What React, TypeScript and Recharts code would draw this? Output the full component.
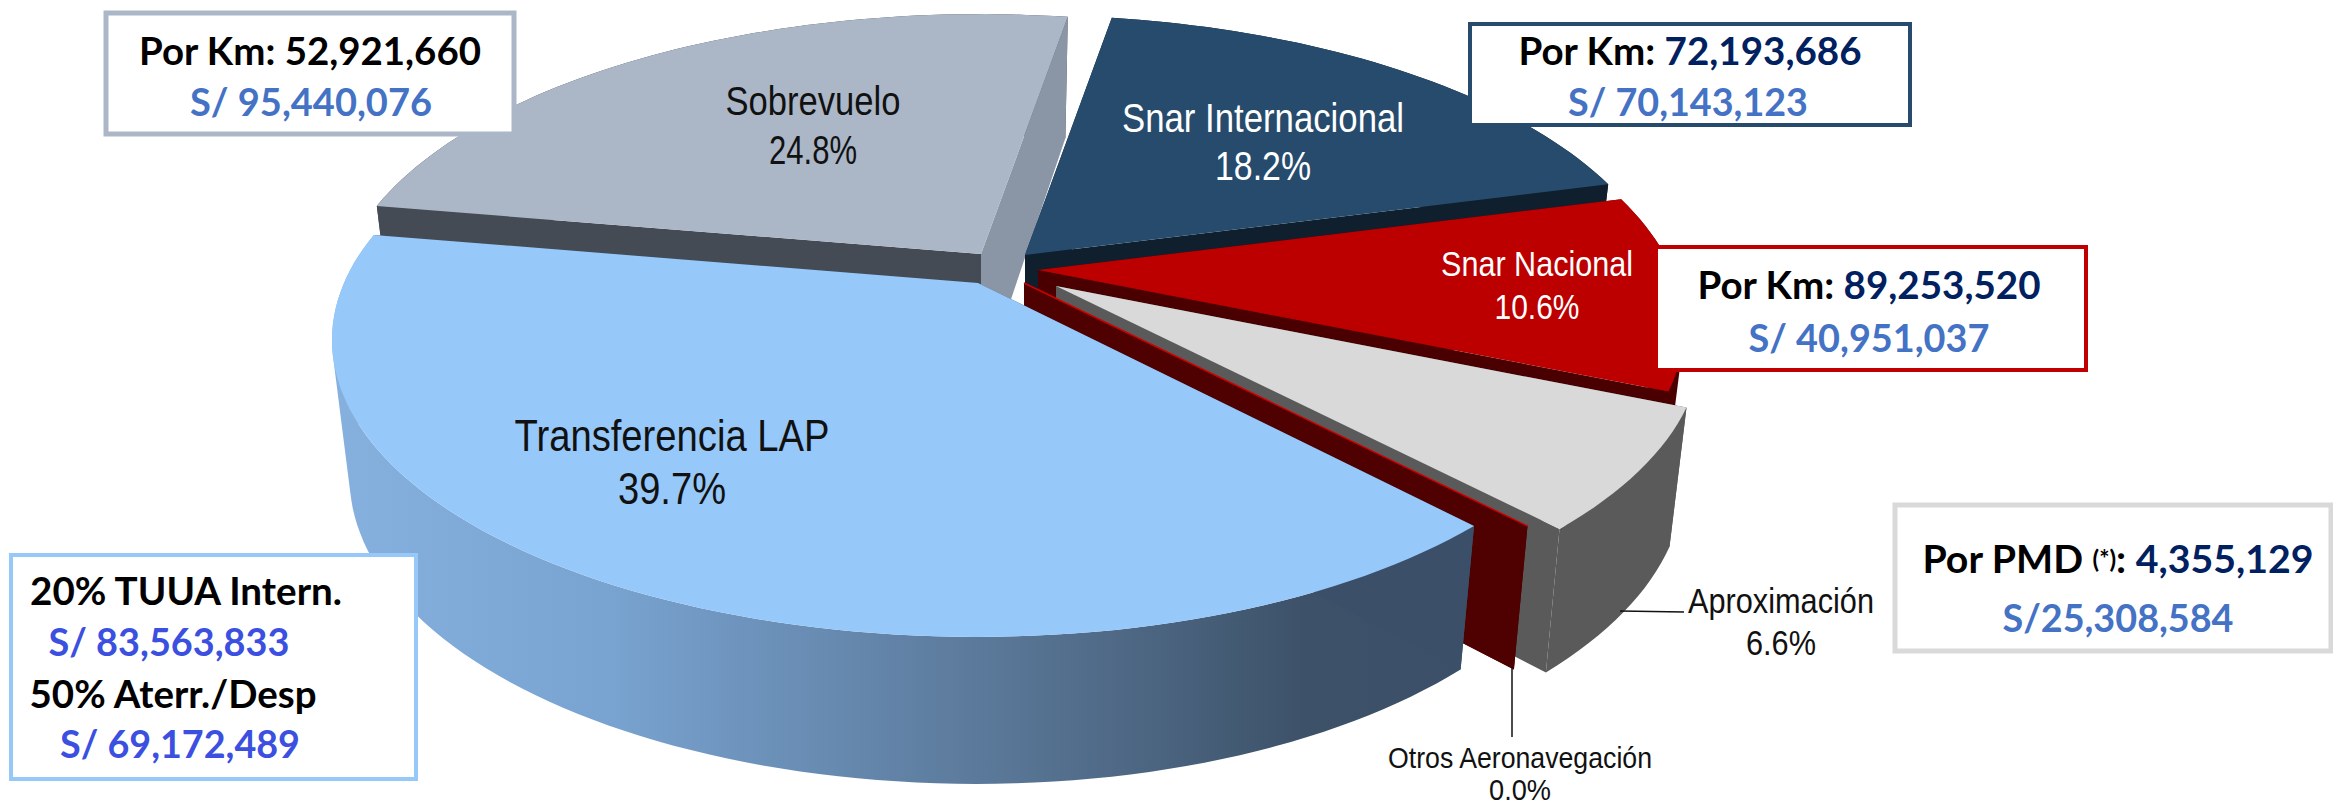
import { PieChart, Pie } from 'recharts';

// Participación por concepto, en el orden en que se dibuja el pastel
const names = ['Sobrevuelo', 'Snar Internacional', 'Snar Nacional', 'Aproximación', 'Otros Aeronavegación', 'Transferencia LAP'];
const shares = [24.8, 18.2, 10.6, 6.6, 0.0, 39.7];

const pieData = names.map((name, i) => ({ name, value: shares[i] }));

// Textos de los recuadros
const boxSobrevuelo = ['Por Km: ', '52,921,660', 'S/ 95,440,076'];
const boxInternacional = ['Por Km: ', '72,193,686', 'S/ 70,143,123'];
const boxNacional = ['Por Km: ', '89,253,520', 'S/ 40,951,037'];
const boxAproximacion = ['4,355,129', 'S/25,308,584'];
const boxTransferencia = ['20% TUUA Intern.', 'S/ 83,563,833', '50% Aterr./Desp', 'S/ 69,172,489'];

const W = 2333;
const H = 806;

// perspectiva del plano superior del pastel
const TILT = 0.451;
const PERSP = 0.192;
const SHRINK = 0.973;

const sliceStyles: Record<string, any> = {
  Sobrevuelo: { dx: -1, dy: -29, top: '#ABB7C7', wallA: '#454B54', wallB: '#8A96A6', rim: '#454B54' },
  'Snar Internacional': { dx: 43, dy: -28, top: '#264B6C', wallA: '#0F1F2D', wallB: '#0F1F2D', rim: '#0F1F2D' },
  'Snar Nacional': { dx: 56, dy: -13, top: '#BC0000', wallA: '#4A0000', wallB: '#4A0000', rim: '#4A0000' },
  'Aproximación': { dx: 74, dy: 3, top: '#D9D9D9', wallA: '#5A5A5A', wallB: '#5A5A5A', rim: '#5A5A5A' },
  'Otros Aeronavegación': { dx: 42, dy: 0, top: '#D00000', wallA: '#4F0000', wallB: '#4F0000', rim: '#4F0000' },
  'Transferencia LAP': { dx: -4, dy: 0, right: 0.985, top: '#97C8FA', wallA: '#3B5068', wallB: '#3B5068', rim: 'url(#rimBlue)' },
};

const labelStyles: Record<string, any> = {
  Sobrevuelo: { x: 813, y: 101, gap: 49, size: 40, width: 175, pct: 88, color: '#111' },
  'Snar Internacional': { x: 1263, y: 118, gap: 48, size: 40, width: 282, pct: 96, color: '#fff' },
  'Snar Nacional': { x: 1537, y: 263, gap: 43, size: 35, width: 192, pct: 85, color: '#fff' },
  'Aproximación': { x: 1781, y: 600, gap: 42, size: 35, width: 186, pct: 70, color: '#111', line: [1620, 611, 1684, 612] },
  'Otros Aeronavegación': { x: 1520, y: 757, gap: 32, size: 30, width: 264, pct: 62, color: '#111', line: [1512, 667, 1512, 737] },
  'Transferencia LAP': { x: 672, y: 435, gap: 53, size: 44, width: 315, pct: 108, color: '#111' },
};

function project(cx: number, cy: number, R: number, deg: number, r: number, bottom: boolean, right = 1) {
  const a = (deg * Math.PI) / 180;
  const u = r * Math.cos(a);
  const v = r * Math.sin(a);
  const w = 1 + PERSP * v;
  const X = ((R * u) / w) * (u > 0 ? right : 1);
  const Y = (-TILT * R * v) / w;
  if (!bottom) return [cx + X, cy + Y];
  return [cx + X * SHRINK, cy + Y + 134 - 13 * v];
}

function toPath(points: number[][]) {
  return 'M' + points.map(p => `${p[0].toFixed(1)},${p[1].toFixed(1)}`).join('L') + 'Z';
}

// la pared curva se arma con cuadros de igual sentido para que no se cancelen al doblarse
function rimPath(top: number[][], low: number[][]) {
  let d = '';
  for (let i = 0; i < top.length - 1; i++) {
    const quad = [top[i], top[i + 1], low[i + 1], low[i]];
    let area = 0;
    quad.forEach((p, j) => {
      const q = quad[(j + 1) % 4];
      area += p[0] * q[1] - q[0] * p[1];
    });
    d += toPath(area < 0 ? [...quad].reverse() : quad);
  }
  return d;
}

function Slice3D(props: any) {
  const { cx, cy, outerRadius, startAngle, endAngle, payload, name } = props;
  const st = sliceStyles[payload?.name ?? name];
  const ox = cx + st.dx;
  const oy = cy + st.dy;
  const steps = Math.max(1, Math.ceil(Math.abs(endAngle - startAngle) / 1.5));
  const angles = Array.from({ length: steps + 1 }, (_, i) => startAngle + ((endAngle - startAngle) * i) / steps);
  const topArc = angles.map(a => project(ox, oy, outerRadius, a, 1, false, st.right));
  const lowArc = angles.map(a => project(ox, oy, outerRadius, a, 1, true, st.right));
  const apexTop = project(ox, oy, outerRadius, 0, 0, false);
  const apexLow = project(ox, oy, outerRadius, 0, 0, true);
  const last = angles.length - 1;
  return (
    <g>
      <defs>
        <linearGradient id="rimBlue" x1="0" y1="0" x2="1" y2="0">
          <stop offset="0%" stopColor="#86B1DE" />
          <stop offset="25%" stopColor="#78A2CF" />
          <stop offset="60%" stopColor="#587595" />
          <stop offset="85%" stopColor="#3D5269" />
          <stop offset="100%" stopColor="#3B5068" />
        </linearGradient>
      </defs>
      <path d={rimPath(topArc, lowArc)} fill={st.rim} />
      <path d={toPath([apexTop, topArc[0], lowArc[0], apexLow])} fill={st.wallA} />
      <path d={toPath([apexTop, topArc[last], lowArc[last], apexLow])} fill={st.wallB} />
      <path
        d={toPath([apexTop, ...topArc])}
        fill={st.top}
        stroke={endAngle === startAngle ? st.top : 'none'}
        strokeWidth={1.5}
      />
    </g>
  );
}

function SliceLabel(props: any) {
  const name = props.payload?.name ?? props.name;
  const st = labelStyles[name];
  const font = { fontFamily: '"Liberation Sans", Arial, sans-serif', fontSize: st.size, fill: st.color };
  return (
    <g>
      {st.line && <line x1={st.line[0]} y1={st.line[1]} x2={st.line[2]} y2={st.line[3]} stroke="#111" strokeWidth={1.5} />}
      <text x={st.x} y={st.y} textAnchor="middle" dominantBaseline="central" textLength={st.width} lengthAdjust="spacingAndGlyphs" {...font}>
        {name}
      </text>
      <text x={st.x} y={st.y + st.gap} textAnchor="middle" dominantBaseline="central" textLength={st.pct} lengthAdjust="spacingAndGlyphs" {...font}>
        {`${props.value.toFixed(1)}%`}
      </text>
    </g>
  );
}

const boxFont = { fontFamily: 'Lato, "Open Sans", sans-serif', fontWeight: 700, fontSize: 39 };
const NAVY = '#002060';
const BLUE = '#4472C4';
const ROYAL = '#3B4FE0';

function BoxLine({ x, y, width, children }: any) {
  return (
    <text x={x} y={y} textAnchor="middle" dominantBaseline="central" textLength={width} lengthAdjust="spacingAndGlyphs" {...boxFont}>
      {children}
    </text>
  );
}

function Callouts() {
  return (
    <svg width={W} height={H} style={{ position: 'absolute', left: 0, top: 0 }}>
      <rect x={106} y={13} width={408} height={121} fill="#fff" stroke="#ABB7C7" strokeWidth={5} />
      <BoxLine x={310} y={50} width={342}>
        <tspan fill="#000">{boxSobrevuelo[0]}{boxSobrevuelo[1]}</tspan>
      </BoxLine>
      <BoxLine x={311} y={101} width={242}>
        <tspan fill={BLUE}>{boxSobrevuelo[2]}</tspan>
      </BoxLine>

      <rect x={1470} y={24} width={440} height={101} fill="#fff" stroke="#264B6C" strokeWidth={4} />
      <BoxLine x={1690} y={50} width={343}>
        <tspan fill="#000">{boxInternacional[0]}</tspan>
        <tspan fill={NAVY}>{boxInternacional[1]}</tspan>
      </BoxLine>
      <BoxLine x={1688} y={101} width={240}>
        <tspan fill={BLUE}>{boxInternacional[2]}</tspan>
      </BoxLine>

      <rect x={1656} y={247} width={430} height={123} fill="#fff" stroke="#C00000" strokeWidth={4} />
      <BoxLine x={1869} y={284} width={343}>
        <tspan fill="#000">{boxNacional[0]}</tspan>
        <tspan fill={NAVY}>{boxNacional[1]}</tspan>
      </BoxLine>
      <BoxLine x={1869} y={337} width={241}>
        <tspan fill={BLUE}>{boxNacional[2]}</tspan>
      </BoxLine>

      <rect x={1895} y={505} width={436} height={146} fill="#fff" stroke="#D9D9D9" strokeWidth={5} />
      <BoxLine x={2118} y={558} width={391}>
        <tspan fill="#000">Por PMD </tspan>
        <tspan fill="#000" fontSize={24}>(*)</tspan>
        <tspan fill="#000">: </tspan>
        <tspan fill={NAVY}>{boxAproximacion[0]}</tspan>
      </BoxLine>
      <BoxLine x={2118} y={617} width={231}>
        <tspan fill={BLUE}>{boxAproximacion[1]}</tspan>
      </BoxLine>

      <rect x={11} y={555} width={405} height={224} fill="#fff" stroke="#97C8FA" strokeWidth={4} />
      <BoxLine x={186} y={590} width={312}>
        <tspan fill="#000">{boxTransferencia[0]}</tspan>
      </BoxLine>
      <BoxLine x={169} y={641} width={241}>
        <tspan fill={ROYAL}>{boxTransferencia[1]}</tspan>
      </BoxLine>
      <BoxLine x={173} y={693} width={287}>
        <tspan fill="#000">{boxTransferencia[2]}</tspan>
      </BoxLine>
      <BoxLine x={180} y={743} width={240}>
        <tspan fill={ROYAL}>{boxTransferencia[3]}</tspan>
      </BoxLine>
    </svg>
  );
}

export default function App() {
  return (
    <div style={{ position: 'absolute', left: 0, top: 0, width: W, height: H, background: '#fff', overflow: 'hidden' }}>
      <PieChart width={W} height={H} margin={{ top: 0, right: 0, bottom: 0, left: 0 }}>
        <Pie
          data={pieData}
          dataKey="value"
          nameKey="name"
          cx={982}
          cy={283}
          innerRadius={0}
          outerRadius={634}
          startAngle={170}
          endAngle={-190}
          stroke="none"
          shape={Slice3D}
          label={SliceLabel}
          labelLine={false}
          isAnimationActive={false}
        />
      </PieChart>
      <Callouts />
    </div>
  );
}
